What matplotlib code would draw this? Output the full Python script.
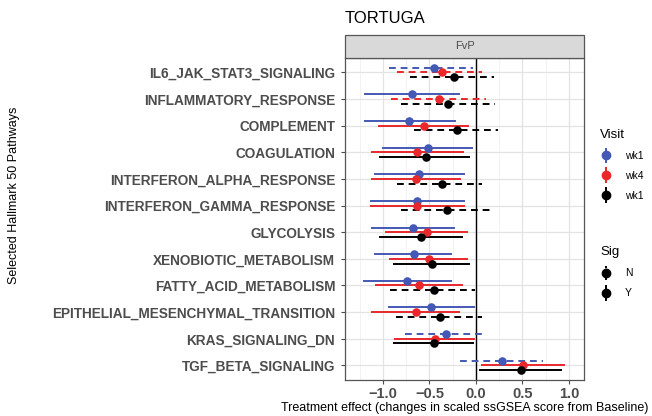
import matplotlib
matplotlib.use("Agg")
import matplotlib.pyplot as plt
from matplotlib.lines import Line2D
from matplotlib.legend_handler import HandlerBase
from matplotlib.patches import Rectangle
from matplotlib.ticker import MultipleLocator

plt.rcParams['font.family'] = ['Liberation Sans', 'DejaVu Sans']

# pathways, top to bottom
pathways = ["IL6_JAK_STAT3_SIGNALING", "INFLAMMATORY_RESPONSE", "COMPLEMENT",
            "COAGULATION", "INTERFERON_ALPHA_RESPONSE", "INTERFERON_GAMMA_RESPONSE",
            "GLYCOLYSIS", "XENOBIOTIC_METABOLISM", "FATTY_ACID_METABOLISM",
            "EPITHELIAL_MESENCHYMAL_TRANSITION", "KRAS_SIGNALING_DN", "TGF_BETA_SIGNALING"]

# visit wk1 (blue)
blue_est = [-0.45, -0.69, -0.72, -0.52, -0.61, -0.63, -0.68, -0.67, -0.74, -0.48, -0.32, 0.28]
blue_lo = [-0.94, -1.19, -1.19, -1.00, -1.09, -1.13, -1.12, -1.09, -1.20, -0.94, -0.76, -0.17]
blue_hi = [-0.03, -0.18, -0.23, -0.04, -0.13, -0.13, -0.24, -0.27, -0.27, -0.02, 0.06, 0.72]
blue_sig = ["N", "Y", "Y", "Y", "Y", "Y", "Y", "Y", "Y", "Y", "N", "N"]

# visit wk4 (red)
red_est = [-0.37, -0.40, -0.56, -0.63, -0.65, -0.63, -0.53, -0.51, -0.61, -0.64, -0.44, 0.51]
red_lo = [-0.85, -0.91, -1.04, -1.12, -1.12, -1.13, -0.97, -0.92, -1.08, -1.12, -0.87, 0.07]
red_hi = [0.07, 0.11, -0.09, -0.14, -0.17, -0.13, -0.10, -0.10, -0.15, -0.18, -0.02, 0.95]
red_sig = ["N", "N", "Y", "Y", "Y", "Y", "Y", "Y", "Y", "Y", "Y", "Y"]

# third visit group (black, labelled wk1 in the legend)
black_est = [-0.24, -0.30, -0.20, -0.54, -0.37, -0.31, -0.59, -0.47, -0.45, -0.39, -0.45, 0.48]
black_lo = [-0.71, -0.81, -0.67, -1.03, -0.85, -0.81, -1.03, -0.88, -0.93, -0.86, -0.88, 0.04]
black_hi = [0.19, 0.20, 0.24, -0.07, 0.06, 0.19, -0.15, -0.07, -0.01, 0.06, -0.03, 0.92]
black_sig = ["N", "N", "N", "Y", "N", "N", "Y", "Y", "N", "N", "Y", "Y"]

visit_labels = ["wk1", "wk4", "wk1"]
sig_labels = ["N", "Y"]

BLUE = "#4459B5"
RED = "#E8282B"
BLACK = "#000000"
DASH = (0, (3.5, 2.5))

fig = plt.figure(figsize=(6.52, 4.16), dpi=100)
ax = fig.add_axes([0.529, 0.0865, 0.367, 0.7745])

ax.set_xlim(-1.41, 1.165)
ax.set_ylim(len(pathways) - 0.45, -0.55)

# grid
ax.xaxis.set_major_locator(MultipleLocator(0.5))
ax.xaxis.set_minor_locator(MultipleLocator(0.25))
ax.grid(True, which='major', color='#E3E3E3', lw=0.9)
ax.grid(True, which='minor', axis='x', color='#F0F0F0', lw=0.6)
ax.set_axisbelow(True)
ax.axvline(0, color='black', lw=1.0, zorder=1)

groups = [
    (blue_est, blue_lo, blue_hi, blue_sig, BLUE, -0.175),
    (red_est, red_lo, red_hi, red_sig, RED, 0.0),
    (black_est, black_lo, black_hi, black_sig, BLACK, 0.175),
]
for est, lo, hi, sig, col, off in groups:
    for i in range(len(pathways)):
        ls = DASH if sig[i] == "N" else '-'
        ax.plot([lo[i], hi[i]], [i + off, i + off], color=col, lw=1.4, ls=ls, zorder=2)
    ax.scatter(est, [i + off for i in range(len(pathways))], s=38, color=col,
               zorder=3, linewidths=0)

ax.set_yticks(range(len(pathways)))
ax.set_yticklabels(pathways, fontsize=9.8, fontweight='bold', color='#4D4D4D')
ax.tick_params(axis='x', labelsize=10.5, colors='#4D4D4D', length=3, width=0.8, pad=2)
ax.tick_params(axis='y', length=3, width=0.8, colors='#4D4D4D', pad=4)
for lab in ax.get_xticklabels():
    lab.set_fontweight('bold')
ax.tick_params(which='minor', length=0)

for s in ax.spines.values():
    s.set_color('#555555')
    s.set_linewidth(0.9)

ax.set_xlabel("Treatment effect (changes in scaled ssGSEA score from Baseline)",
              fontsize=9, labelpad=1)
fig.text(0.012, 0.53, "Selected Hallmark 50 Pathways", rotation=90, fontsize=9,
         ha='left', va='center')

# strip on top of the panel
strip = Rectangle((0.529, 0.861), 0.367, 0.055, transform=fig.transFigure,
                  facecolor='#D9D9D9', edgecolor='#555555', lw=0.9)
fig.add_artist(strip)
fig.text(0.529 + 0.367 / 2, 0.861 + 0.0275, "FvP", fontsize=8, color='#4D4D4D',
         ha='center', va='center')
fig.text(0.529, 0.955, "TORTUGA", fontsize=12, ha='left', va='center')


class VPointRange(HandlerBase):
    def __init__(self, color, ls):
        super().__init__()
        self.color = color
        self.ls = ls

    def create_artists(self, legend, orig_handle, xdescent, ydescent, width, height,
                       fontsize, trans):
        cx = width / 2 - xdescent
        cy = height / 2 - ydescent
        line = Line2D([cx, cx], [cy - height * 0.95, cy + height * 0.95],
                      color=self.color, lw=1.4, ls=self.ls, transform=trans)
        pt = Line2D([cx], [cy], marker='o', markersize=6, color=self.color,
                    ls='none', transform=trans)
        return [line, pt]


visit_handles = [Line2D([], []) for _ in visit_labels]
visit_map = {h: VPointRange(c, '-') for h, c in zip(visit_handles, [BLUE, RED, BLACK])}
leg1 = fig.legend(visit_handles, visit_labels, handler_map=visit_map, title="Visit",
                  loc='upper left', bbox_to_anchor=(0.906, 0.712), frameon=False,
                  fontsize=7.5, title_fontsize=9.5, alignment='left',
                  handlelength=1.2, handletextpad=1.2, labelspacing=0.95)

sig_handles = [Line2D([], []) for _ in sig_labels]
sig_map = {h: VPointRange(BLACK, ls) for h, ls in zip(sig_handles, [DASH, '-'])}
leg2 = fig.legend(sig_handles, sig_labels, handler_map=sig_map, title="Sig",
                  loc='upper left', bbox_to_anchor=(0.906, 0.43), frameon=False,
                  fontsize=7.5, title_fontsize=9.5, alignment='left',
                  handlelength=1.2, handletextpad=1.2, labelspacing=0.95)

fig.savefig("out.png", dpi=100)
